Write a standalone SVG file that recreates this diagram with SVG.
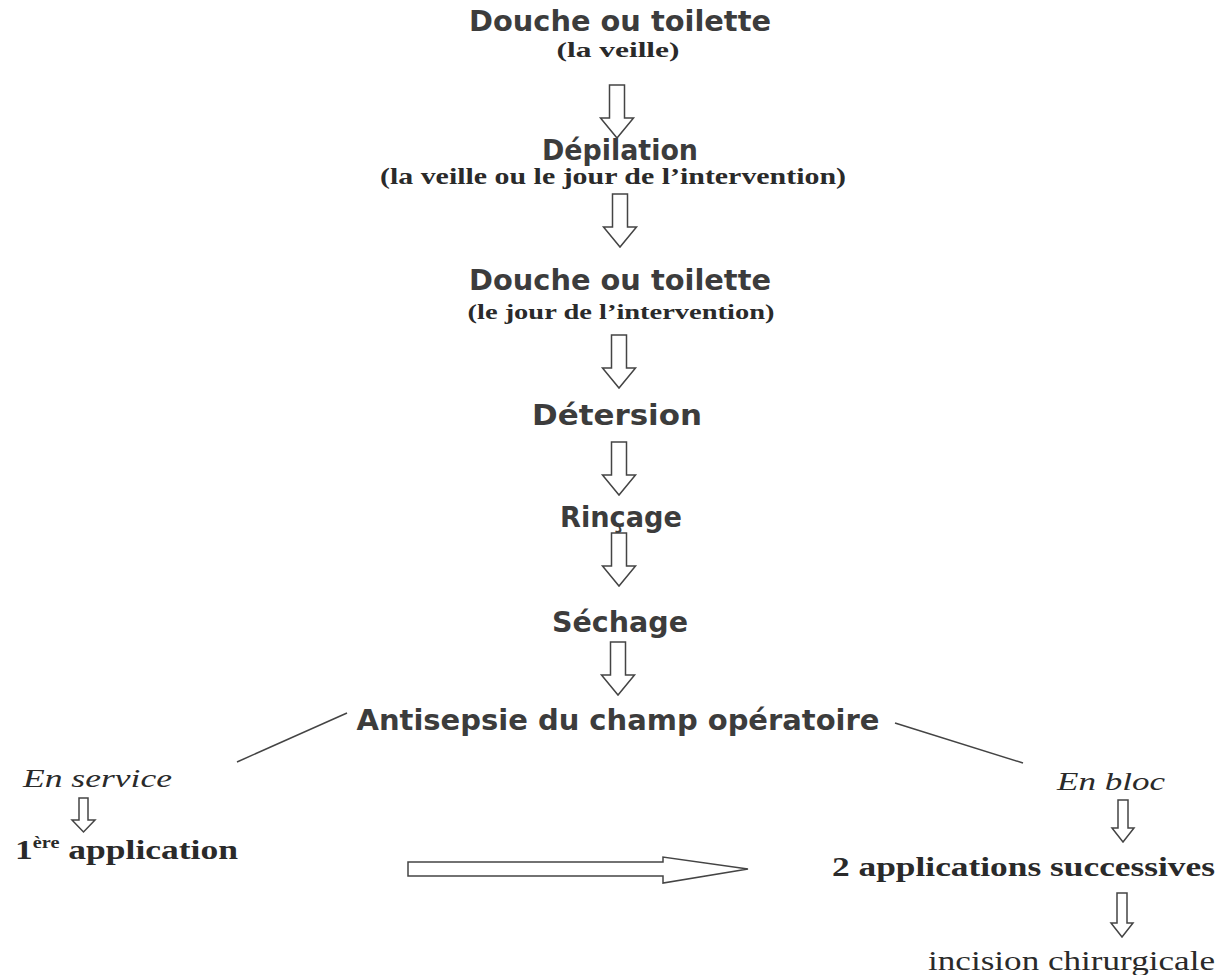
<svg xmlns="http://www.w3.org/2000/svg" width="1223" height="975" viewBox="0 0 1223 975">
<style>
.h{font-family:"DejaVu Sans","Verdana",sans-serif;font-weight:bold;fill:#3c3c3c;text-anchor:middle}
.s{font-family:"Liberation Serif","Times New Roman",serif;font-weight:bold;fill:#2a2a2a}
.i{font-family:"Liberation Serif","Times New Roman",serif;font-style:italic;fill:#2a2a2a}
.r{font-family:"Liberation Serif","Times New Roman",serif;fill:#2a2a2a}
.ar{fill:#fff;stroke:#444;stroke-width:1.5;stroke-linejoin:miter}
.ln{stroke:#444;stroke-width:1.5;fill:none}
</style>
<defs>
<path id="va" d="M-7.5,0 H7.5 V33 H16.5 L0,53 L-16.5,33 H-7.5 Z"/>
</defs>
<rect width="1223" height="975" fill="#fff"/>
<g id="n1"><text class="h" x="620" y="31" font-size="28" textLength="302" lengthAdjust="spacingAndGlyphs">Douche ou toilette</text>
<text class="s" x="618" y="57" font-size="22" text-anchor="middle" textLength="123" lengthAdjust="spacingAndGlyphs">(la veille)</text></g>
<g id="n2"><text class="h" x="620" y="160" font-size="28" textLength="156" lengthAdjust="spacingAndGlyphs">Dépilation</text>
<text class="s" x="613" y="184" font-size="23" text-anchor="middle" textLength="466" lengthAdjust="spacingAndGlyphs">(la veille ou le jour de l’intervention)</text></g>
<g id="n3"><text class="h" x="620" y="290" font-size="28" textLength="302" lengthAdjust="spacingAndGlyphs">Douche ou toilette</text>
<text class="s" x="621" y="319" font-size="22" text-anchor="middle" textLength="307" lengthAdjust="spacingAndGlyphs">(le jour de l’intervention)</text></g>
<g id="n4"><text class="h" x="617" y="425" font-size="28" textLength="170" lengthAdjust="spacingAndGlyphs">Détersion</text></g>
<g id="n5"><text class="h" x="621" y="527" font-size="28" textLength="122" lengthAdjust="spacingAndGlyphs">Rinçage</text></g>
<g id="n6"><text class="h" x="620" y="632" font-size="28" textLength="136" lengthAdjust="spacingAndGlyphs">Séchage</text></g>
<g id="n7"><text class="h" x="618" y="730" font-size="28" textLength="523" lengthAdjust="spacingAndGlyphs">Antisepsie du champ opératoire</text></g>
<g id="n8"><text class="i" x="23" y="787" font-size="26" textLength="149" lengthAdjust="spacingAndGlyphs">En service</text></g>
<g id="n9"><text class="s" x="15" y="859" font-size="28" textLength="223" lengthAdjust="spacingAndGlyphs">1<tspan font-size="16" dy="-11">ère</tspan><tspan dy="11"> application</tspan></text></g>
<g id="n10"><text class="i" x="1057" y="790" font-size="26" textLength="108" lengthAdjust="spacingAndGlyphs">En bloc</text></g>
<g id="n11"><text class="s" x="832" y="876" font-size="28" textLength="383" lengthAdjust="spacingAndGlyphs">2 applications successives</text></g>
<g id="n12"><text class="r" x="928" y="970" font-size="28" textLength="287" lengthAdjust="spacingAndGlyphs">incision chirurgicale</text></g>
<g id="connectors">
<use href="#va" class="ar" x="617" y="85"/>
<use href="#va" class="ar" x="620" y="194"/>
<use href="#va" class="ar" x="619" y="335"/>
<use href="#va" class="ar" x="619" y="442"/>
<use href="#va" class="ar" x="619" y="533"/>
<use href="#va" class="ar" x="618" y="642"/>
<line class="ln" x1="347" y1="713" x2="237" y2="762"/>
<line class="ln" x1="895" y1="723" x2="1023" y2="763"/>
<path class="ar" d="M79,798 H88 V820 H95 L83.5,832 L72,820 H79 Z"/>
<path class="ar" d="M1118,800 H1128 V828 H1134 L1123,842 L1112,828 H1118 Z"/>
<path class="ar" d="M1117,893 H1127 V923 H1133 L1122,937 L1111,923 H1117 Z"/>
<path class="ar" d="M408,862 H663 V857 L748,869 L663,883 V876 H408 Z"/>
</g>
</svg>
